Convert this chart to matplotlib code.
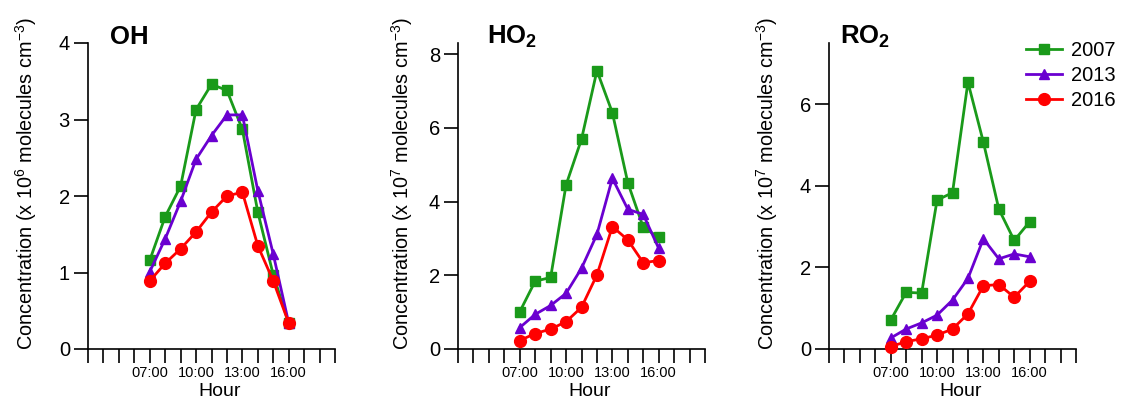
import matplotlib
matplotlib.use("Agg")
import matplotlib.pyplot as plt

plt.rcParams['font.family'] = ['Liberation Sans', 'DejaVu Sans']
plt.rcParams['mathtext.fontset'] = 'custom'
plt.rcParams['mathtext.rm'] = 'Liberation Sans'
plt.rcParams['mathtext.it'] = 'Liberation Sans:italic'
plt.rcParams['mathtext.bf'] = 'Liberation Sans:bold'

hours = [7, 8, 9, 10, 11, 12, 13, 14, 15, 16]
years = ['2007', '2013', '2016']

oh_2007 = [1.16, 1.73, 2.13, 3.13, 3.46, 3.38, 2.87, 1.79, 0.97, 0.34]
oh_2013 = [1.01, 1.44, 1.93, 2.48, 2.79, 3.06, 3.06, 2.07, 1.24, 0.34]
oh_2016 = [0.89, 1.12, 1.31, 1.53, 1.79, 2.00, 2.05, 1.35, 0.89, 0.34]

ho2_2007 = [1.01, 1.84, 1.94, 4.45, 5.69, 7.55, 6.41, 4.51, 3.30, 3.03]
ho2_2013 = [0.58, 0.94, 1.18, 1.51, 2.19, 3.11, 4.63, 3.79, 3.65, 2.73]
ho2_2016 = [0.23, 0.42, 0.54, 0.74, 1.13, 2.01, 3.32, 2.96, 2.34, 2.40]

ro2_2007 = [0.71, 1.39, 1.37, 3.65, 3.83, 6.54, 5.07, 3.43, 2.66, 3.12]
ro2_2013 = [0.27, 0.49, 0.64, 0.83, 1.20, 1.73, 2.70, 2.21, 2.33, 2.26]
ro2_2016 = [0.06, 0.18, 0.25, 0.34, 0.49, 0.86, 1.55, 1.58, 1.27, 1.66]

xtick_hours = list(range(3, 20))
xtick_labels = {7: '07:00', 10: '10:00', 13: '13:00', 16: '16:00'}

colors = ['#1a9a1a', '#6a00d0', '#ff0000']
markers = ['s', '^', 'o']
msizes = [7.5, 7.5, 8.5]

W, H = 1124, 399
fig = plt.figure(figsize=(W / 100, H / 100), dpi=100)

panels = [
    dict(left=88, title='OH', series=[oh_2007, oh_2013, oh_2016], ylim=(0, 4.0),
         yticks=[0, 1, 2, 3, 4], exp='6', tx=0.089, lx=-0.198),
    dict(left=458, title='HO$_\\mathbf{2}$', series=[ho2_2007, ho2_2013, ho2_2016], ylim=(0, 8.3),
         yticks=[0, 2, 4, 6, 8], exp='7', tx=0.117, lx=-0.174),
    dict(left=829, title='RO$_\\mathbf{2}$', series=[ro2_2007, ro2_2013, ro2_2016], ylim=(0, 7.5),
         yticks=[0, 2, 4, 6], exp='7', tx=0.045, lx=-0.199),
]

top, bottom = 43, 349
width = 247
axes = []
for p in panels:
    ax = fig.add_axes([p['left'] / W, (H - bottom) / H, width / W, (bottom - top) / H])
    axes.append(ax)
    for s, c, m, ms, yr in zip(p['series'], colors, markers, msizes, years):
        ax.plot(hours, s, color=c, marker=m, markersize=ms, linewidth=2.0, label=yr,
                clip_on=False, zorder=3)
    ax.set_xlim(3, 19)
    ax.set_ylim(*p['ylim'])
    ax.set_yticks(p['yticks'])
    ax.set_xticks(xtick_hours)
    ax.set_xticklabels([xtick_labels.get(h, '') for h in xtick_hours], fontsize=10.5)
    for sp in ['top', 'right']:
        ax.spines[sp].set_visible(False)
    for sp in ['left', 'bottom']:
        ax.spines[sp].set_linewidth(1.2)
    ax.tick_params(axis='y', direction='out', length=10, width=1.2, labelsize=14.5, pad=3)
    ax.tick_params(axis='x', direction='out', length=10, width=1.2, labelsize=10.5, pad=2)
    ax.set_ylabel('Concentration (x 10$^{%s}$ molecules cm$^{-3}$)' % p['exp'], fontsize=14.3)
    ax.yaxis.set_label_coords(p['lx'], 0.542)
    ax.set_xlabel('Hour', fontsize=14)
    ax.xaxis.set_label_coords(0.534, -0.112)
    ax.text(p['tx'], 1.02, p['title'], transform=ax.transAxes, fontsize=18.5,
            fontweight='bold', ha='left', va='center')

leg = axes[2].legend(loc='upper left', bbox_to_anchor=(1026 / W, (H - 41) / H),
                     bbox_transform=fig.transFigure, frameon=False, fontsize=14.5,
                     handlelength=1.8, handletextpad=0.45, labelspacing=0.3, borderpad=0,
                     borderaxespad=0)

fig.savefig('out.png', dpi=100)
